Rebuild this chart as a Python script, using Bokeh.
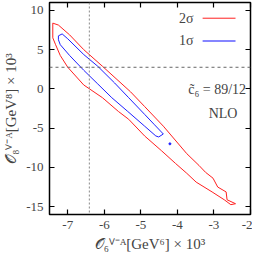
from bokeh.plotting import figure
from bokeh.models import LinearAxis, FixedTicker, Span, Label, Range1d
from bokeh.embed import file_html
from bokeh.resources import INLINE

# ---------------- data ----------------
x_ticks = [-7, -6, -5, -4, -3, -2]
x_tick_labels = ["-7", "-6", "-5", "-4", "-3", "-2"]
y_ticks = [-15, -10, -5, 0, 5, 10]
y_tick_labels = ["-15", "-10", "-5", "0", "5", "10"]

best_fit_x = -6.41
best_fit_y = 2.75

# 2 sigma contour (closed)
sigma2_x = [-7.41, -7.256, -6.949, -6.564, -6.051, -5.282, -4.897, -4.385, -3.744,
            -3.41, -3.231, -3.026, -2.897, -2.667, -2.641, -2.41,
            -2.538, -2.718, -3.051, -3.487, -3.744, -4.051, -4.436, -4.897,
            -5.333, -5.615, -6.051, -6.564, -7.0, -7.205, -7.333, -7.41, -7.41]
sigma2_y = [8.375, 8.125, 6.875, 5.0, 2.875, -0.375, -2.25, -4.75, -8.25,
            -9.75, -10.625, -11.375, -12.5, -13.125, -14.125, -14.625,
            -14.75, -14.125, -13.125, -11.875, -10.75, -9.5, -7.875, -6.0,
            -3.875, -2.875, -1.125, 0.5, 2.75, 4.25, 5.625, 6.5, 8.375]

# 1 sigma contour (closed)
sigma1_x = [-7.256, -7.154, -7.0, -6.564, -6.179, -5.718, -5.333, -4.897, -4.641,
            -4.462, -4.385, -4.513, -4.59, -4.897, -5.359, -5.795, -6.179,
            -6.564, -6.949, -7.205, -7.256, -7.256]
sigma1_y = [6.75, 7.0, 6.375, 4.375, 2.875, 0.75, -1.125, -3.25, -4.5,
            -5.375, -5.75, -6.125, -6.0, -4.75, -2.875, -1.125, 0.625,
            2.375, 4.25, 5.625, 6.25, 6.75]
sigma1_island_x = [-4.205]
sigma1_island_y = [-7.0]

legend_labels = ["2σ", "1σ"]
legend_colors = ["#ff2020", "#2020ff"]
c6_text = "c̃₆ = 89/12"
order_text = "NLO"

FONT = "Liberation Serif"

p = figure(width=252, height=254, output_backend="svg", toolbar_location=None,
           x_range=Range1d(-7.5, -2.0), y_range=Range1d(-16.0, 11.0),
           x_axis_label="𝒪₆ⱽ⁻ᴬ[GeV⁶] × 10³", y_axis_label="𝒪₈ⱽ⁻ᴬ[GeV⁸] × 10³",
           min_border_left=38, min_border_right=2, min_border_top=2, min_border_bottom=30)

p.xgrid.visible = False
p.ygrid.visible = False
p.outline_line_color = "black"
p.outline_line_width = 1.5
p.background_fill_color = "white"
p.border_fill_color = "white"

for ax, ticks, labels in ((p.xaxis[0], x_ticks, x_tick_labels), (p.yaxis[0], y_ticks, y_tick_labels)):
    ax.ticker = FixedTicker(ticks=ticks)
    ax.major_label_overrides = {t: l for t, l in zip(ticks, labels)}
    ax.major_tick_in = 5
    ax.major_tick_out = 0
    ax.minor_tick_line_color = None
    ax.axis_line_color = None
    ax.major_tick_line_width = 1.2
    ax.major_label_text_font = FONT
    ax.major_label_text_font_size = "13px"
    ax.axis_label_text_font = FONT
    ax.axis_label_text_font_size = "15px"
    ax.axis_label_text_font_style = "normal"
    ax.major_label_standoff = 6
    ax.axis_label_standoff = 4

for side, ticks in (("above", x_ticks), ("right", y_ticks)):
    a = LinearAxis(ticker=FixedTicker(ticks=ticks),
                   major_label_overrides={t: "" for t in ticks},
                   major_label_standoff=0, major_tick_in=5, major_tick_out=0,
                   minor_tick_line_color=None, axis_line_color=None, major_tick_line_width=1.2)
    p.add_layout(a, side)

p.add_layout(Span(location=best_fit_x, dimension="height", line_color="#888888",
                  line_dash="2 2", line_width=1))
p.add_layout(Span(location=best_fit_y, dimension="width", line_color="#666666",
                  line_dash="3 3", line_width=1))

p.line(sigma2_x, sigma2_y, line_color=legend_colors[0], line_width=1)
p.line(sigma1_x, sigma1_y, line_color=legend_colors[1], line_width=1)
p.scatter(sigma1_island_x, sigma1_island_y, size=2, color=legend_colors[1])

# legend (label left of line, as in reference)
leg_y = [9.0, 6.1]
for lab, col, ly in zip(legend_labels, legend_colors, leg_y):
    p.add_layout(Label(x=-3.56, y=ly, text=lab, text_font=FONT, text_font_size="14px",
                       text_align="right", text_baseline="middle"))
    p.segment(x0=[-3.31], y0=[ly], x1=[-2.41], y1=[ly], line_color=col,
              line_width=1 if lab == "2σ" else 2, line_alpha=1 if lab == "2σ" else 0.55)

p.add_layout(Label(x=-2.12, y=-0.1, text=c6_text, text_font=FONT, text_font_size="14px",
                   text_align="right", text_baseline="middle"))
p.add_layout(Label(x=-2.75, y=-3.1, text=order_text, text_font=FONT, text_font_size="14px",
                   text_align="center", text_baseline="middle"))

open("out.html", "w").write(file_html(p, INLINE))
